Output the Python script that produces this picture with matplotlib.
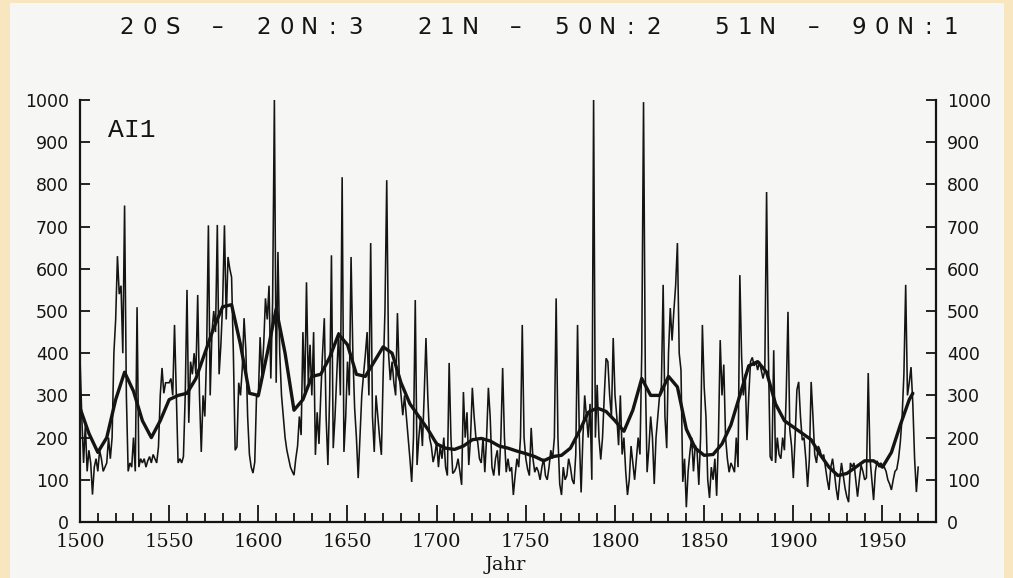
import numpy as np
import matplotlib
matplotlib.use("Agg")
import matplotlib.pyplot as plt
from matplotlib.patches import Rectangle
from matplotlib.ticker import FixedLocator, NullFormatter

# ---------------- data ----------------
first_year = 1500
annual_values = [
    390, 250, 140, 230, 120, 170, 140, 65, 130, 150,      # 1500
    120, 170, 150, 120, 130, 140, 200, 150, 200, 400,     # 1510
    480, 630, 540, 560, 400, 750, 300, 120, 140, 130,     # 1520
    200, 120, 509, 130, 150, 140, 150, 130, 145, 155,     # 1530
    140, 160, 150, 140, 178, 300, 365, 305, 330, 330,     # 1540
    330, 340, 300, 467, 300, 140, 150, 140, 155, 300,     # 1550
    550, 235, 380, 350, 400, 350, 538, 300, 166, 300,     # 1560
    250, 400, 703, 300, 450, 500, 450, 704, 350, 420,     # 1570
    520, 703, 480, 628, 600, 580, 400, 170, 178, 330,     # 1580
    300, 365, 483, 407, 250, 160, 130, 116, 142, 300,     # 1590
    296, 438, 350, 420, 530, 480, 560, 340, 520, 1000,    # 1600
    330, 640, 400, 300, 250, 200, 170, 150, 130, 120,     # 1610
    111, 150, 180, 250, 206, 450, 300, 568, 330, 420,     # 1620
    300, 450, 159, 260, 185, 300, 400, 483, 250, 135,     # 1630
    300, 632, 175, 250, 350, 450, 300, 817, 166, 250,     # 1640
    380, 300, 628, 400, 270, 200, 104, 200, 300, 350,     # 1650
    396, 450, 300, 661, 250, 166, 300, 250, 200, 159,     # 1660
    350, 500, 810, 400, 336, 380, 330, 300, 495, 350,     # 1670
    300, 253, 300, 250, 200, 150, 95, 200, 526, 135,      # 1680
    200, 250, 180, 300, 436, 300, 200, 180, 142, 160,     # 1690
    190, 130, 180, 150, 200, 130, 110, 377, 200, 115,     # 1700
    120, 130, 150, 120, 88, 308, 200, 260, 135, 200,      # 1710
    318, 250, 200, 190, 150, 140, 200, 118, 200, 318,     # 1720
    250, 130, 110, 150, 170, 110, 200, 365, 200, 118,     # 1730
    150, 120, 130, 64, 110, 150, 130, 200, 467, 200,      # 1740
    150, 125, 110, 223, 150, 118, 130, 120, 100, 130,     # 1750
    150, 110, 100, 130, 170, 150, 200, 530, 200, 90,      # 1760
    64, 130, 100, 110, 150, 130, 100, 90, 160, 467,       # 1770
    200, 70, 200, 300, 250, 200, 280, 100, 1000, 200,     # 1780
    325, 200, 148, 200, 300, 388, 380, 300, 250, 436,     # 1790
    300, 250, 182, 300, 160, 200, 120, 64, 100, 180,      # 1800
    140, 100, 150, 200, 160, 400, 995, 350, 118, 175,     # 1810
    250, 200, 90, 200, 250, 300, 320, 562, 250, 175,      # 1820
    400, 507, 430, 500, 560, 661, 400, 360, 95, 150,      # 1830
    35, 120, 165, 200, 120, 182, 170, 88, 200, 467,       # 1840
    320, 250, 100, 57, 130, 100, 150, 62, 200, 431,       # 1850
    300, 373, 200, 150, 118, 140, 130, 118, 200, 130,     # 1860
    585, 390, 300, 350, 194, 300, 380, 390, 370, 380,     # 1870
    360, 380, 360, 340, 360, 782, 400, 155, 145, 407,     # 1880
    140, 200, 160, 150, 200, 170, 300, 498, 220, 180,     # 1890
    104, 200, 313, 332, 250, 194, 200, 150, 83, 150,      # 1900
    332, 250, 160, 140, 180, 170, 150, 160, 130, 100,     # 1910
    76, 130, 150, 118, 80, 52, 100, 140, 110, 80,         # 1920
    60, 47, 140, 130, 140, 100, 60, 100, 135, 120,        # 1930
    100, 105, 353, 150, 100, 52, 120, 145, 130, 140,      # 1940
    135, 130, 120, 100, 90, 76, 100, 120, 125, 150,       # 1950
    190, 250, 350, 562, 300, 330, 367, 280, 150, 71,      # 1960
    130,                                                  # 1970
]
annual_years = list(range(first_year, first_year + len(annual_values)))

smooth_years = list(range(1500, 1970, 5)) + [1967]
smooth_values = [
    270, 210, 165, 200, 290, 355, 310, 240, 200, 240,     # 1500-1545
    290, 300, 305, 340, 400, 460, 510, 515, 420, 305,     # 1550-1595
    300, 400, 505, 400, 265, 290, 345, 350, 390, 445,     # 1600-1645
    420, 350, 345, 380, 415, 400, 330, 280, 250, 220,     # 1650-1695
    185, 175, 172, 180, 195, 198, 192, 180, 175, 168,     # 1700-1745
    162, 155, 145, 155, 158, 175, 215, 260, 270, 262,     # 1750-1795
    240, 215, 265, 340, 300, 300, 345, 320, 220, 175,     # 1800-1845
    158, 160, 185, 230, 300, 370, 380, 355, 280, 240,     # 1850-1895
    225, 210, 195, 160, 130, 110, 115, 130, 145, 145,     # 1900-1945
    130, 165, 230, 290, 305,                              # 1950-1965, 1967
]

y_ticks = list(range(0, 1001, 100))
x_major = list(range(1500, 1951, 50))
x_minor = [y for y in range(1510, 1971, 10) if y % 50 != 0]

title = "20S \u2013 20N:3  21N \u2013 50N:2  51N \u2013 90N:1"
panel_label = "AI1"
x_label = "Jahr"

# ---------------- figure ----------------
W, H = 1013, 578
fig = plt.figure(figsize=(W / 100, H / 100), dpi=100)
fig.patch.set_facecolor("#F8E6C0")
fig.add_artist(Rectangle((10 / W, 0), (1004 - 10) / W, 575 / H,
                         transform=fig.transFigure, facecolor="#F6F6F4",
                         edgecolor="none", zorder=0))

ink = "#141414"
ax = fig.add_axes([80 / W, 56 / H, 856 / W, 422 / H])
ax.set_facecolor("none")

ax.plot(annual_years, annual_values, color=ink, lw=1.15, zorder=3,
        solid_joinstyle="miter", clip_on=False)
ax.plot(smooth_years, smooth_values, color=ink, lw=2.4, zorder=4,
        solid_capstyle="round")

ax.set_xlim(1500, 1980)
ax.set_ylim(0, 1000)

for s in ("left", "right", "bottom"):
    ax.spines[s].set_linewidth(1.6)
    ax.spines[s].set_color(ink)
ax.spines["top"].set_visible(False)

ax.set_yticks(y_ticks)
ax.tick_params(axis="y", which="major", direction="in", length=7.5, width=1.3,
               left=True, right=True, labelleft=True, labelright=True,
               color=ink, labelcolor=ink, pad=7)
for t in ax.yaxis.get_major_ticks():
    for lab in (t.label1, t.label2):
        lab.set_fontfamily("DejaVu Sans")
        lab.set_fontsize(12.5)
    t.set_pad(8)

ax.xaxis.set_major_locator(FixedLocator(x_major))
ax.xaxis.set_minor_locator(FixedLocator(x_minor))
ax.xaxis.set_minor_formatter(NullFormatter())
ax.tick_params(axis="x", which="major", direction="in", length=12.5, width=1.3,
               color=ink, labelcolor=ink, pad=8)
ax.tick_params(axis="x", which="minor", direction="in", length=6.5, width=1.3,
               color=ink)
for lab in ax.get_xticklabels():
    lab.set_fontfamily("DejaVu Serif")
    lab.set_fontsize(14)

fig.text(505 / W, 1 - 565 / H, x_label, ha="center", va="center",
         fontsize=14, family="DejaVu Serif", color=ink)

ax.text((108 - 80) / 856, (522 - 130) / 422, panel_label,
        transform=ax.transAxes, ha="left", va="center",
        fontsize=19, family="Liberation Mono", color=ink)

# title, drawn in a wide, evenly spaced plotter-like lettering
x_start, pitch = 115, 22.9
for i, ch in enumerate(title):
    if ch == " ":
        continue
    fig.text((x_start + (i + 0.5) * pitch) / W, 1 - 27 / H, ch,
             ha="center", va="center", fontsize=16.5,
             family="DejaVu Sans", color=ink)

fig.savefig("out.png", dpi=100, facecolor=fig.get_facecolor())
